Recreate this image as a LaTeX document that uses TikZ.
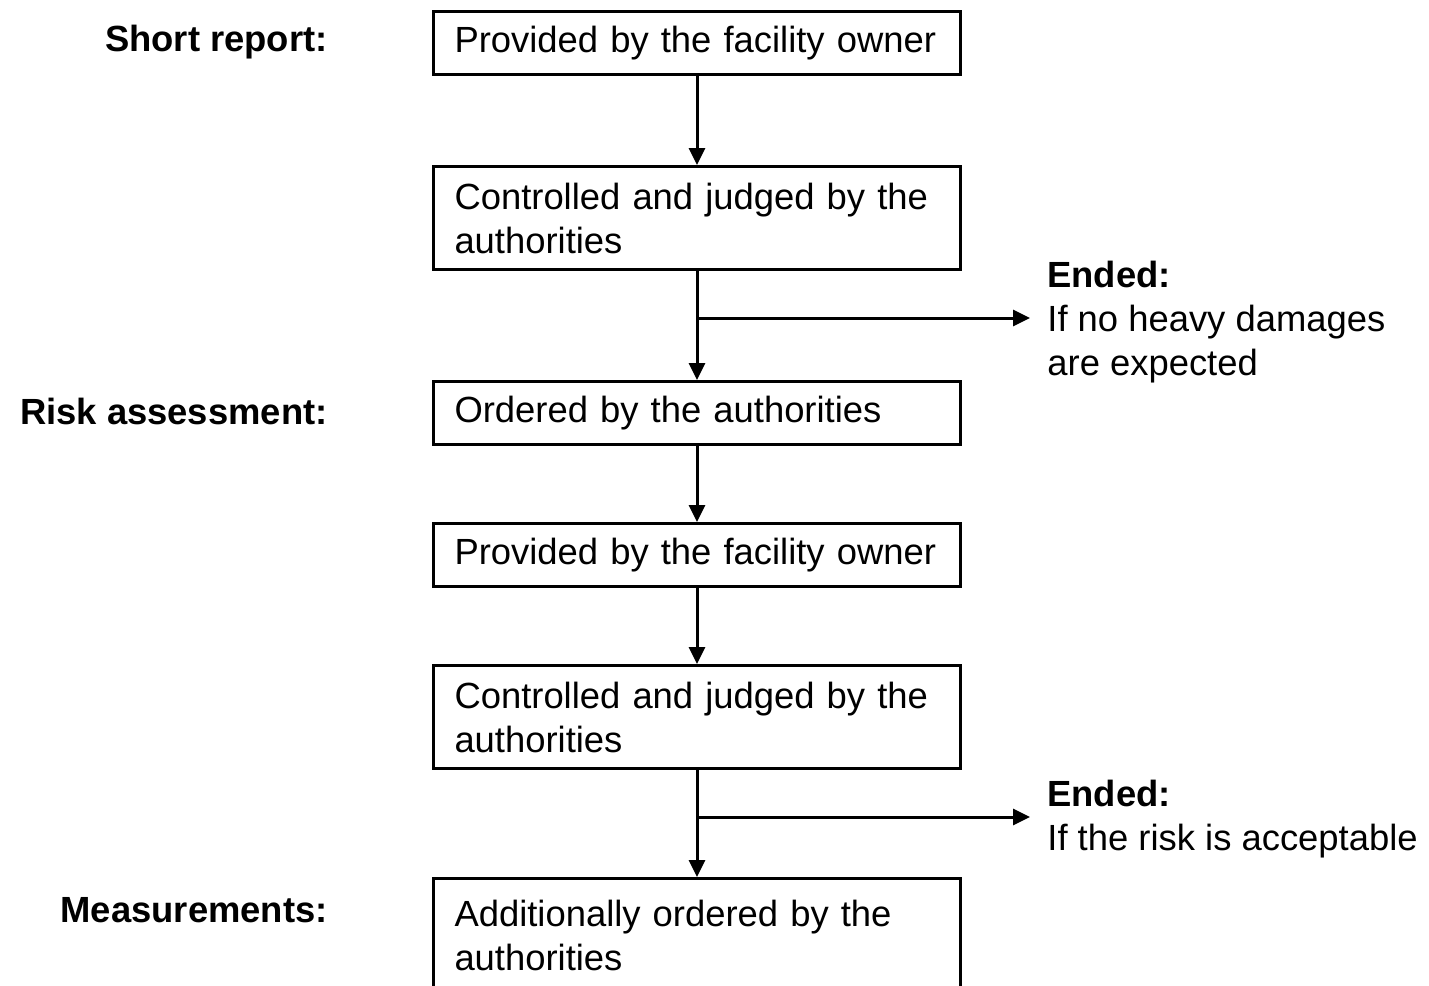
\documentclass[tikz,border=0pt]{standalone}
\usepackage{fontspec}
\setmainfont{Liberation Sans}
\usetikzlibrary{positioning}
\usetikzlibrary{arrows.meta}

\begin{document}
\begin{tikzpicture}[x=0.5pt,y=-0.5pt,
    stepbox/.style={draw=black,line width=1.5pt,anchor=north west,minimum width=263.5pt,text width=242.5pt,inner xsep=10.5pt,inner ysep=0pt,align=left,font=\fontsize{18.2}{22}\selectfont},
    phase/.style={anchor=east,inner sep=0pt,font=\fontsize{18.2}{22}\selectfont\bfseries},
    outcome/.style={anchor=west,inner sep=0pt,align=left,font=\fontsize{18.2}{22}\selectfont},
    flow/.style={line width=1.5pt,-{Triangle[length=8.5pt,width=8pt]}}]
    \useasboundingbox (0,0) rectangle (1429,985);
    \clip (0,0) rectangle (1429,985);

    \node[phase] (short) at (328,42) {Short report:};
    \node[phase] (risk) at (328,411) {Risk assessment:};
    \node[phase] (meas) at (328,910) {Measurements:};

    \node[stepbox,minimum height=31.5pt] (S1) at (432,10) {\mbox{Provided by the facility owner}};
    \node[stepbox,minimum height=51.5pt] (S2) at (432,165) {\mbox{Controlled and judged by the}\\authorities};
    \node[stepbox,minimum height=31.5pt] (R1) at (432,380) {\mbox{Ordered by the authorities}};
    \node[stepbox,minimum height=31.5pt] (R2) at (432,522) {\mbox{Provided by the facility owner}};
    \node[stepbox,minimum height=51.5pt] (R3) at (432,664) {\mbox{Controlled and judged by the}\\authorities};
    \node[stepbox,minimum height=57pt] (M1) at (432,877) {\mbox{Additionally ordered by the}\\authorities};

    \node[outcome] (end_S) at (1047,322) {\textbf{Ended:}\\If no heavy damages\\are expected};
    \node[outcome] (end_R) at (1047,819) {\textbf{Ended:}\\If the risk is acceptable};

    \coordinate (split_S) at (S2.south |- 0,318);
    \coordinate (tip_S) at (1030,318);
    \coordinate (split_R) at (R3.south |- 0,817);
    \coordinate (tip_R) at (1030,817);

    \draw [flow] (S1) -- (S2);
    \draw [flow] (S2) -- (R1);
    \draw [flow] (R1) -- (R2);
    \draw [flow] (R2) -- (R3);
    \draw [flow] (R3) -- (M1);
    \draw [flow] (split_S) -- (tip_S);
    \draw [flow] (split_R) -- (tip_R);
\end{tikzpicture}
\end{document}
